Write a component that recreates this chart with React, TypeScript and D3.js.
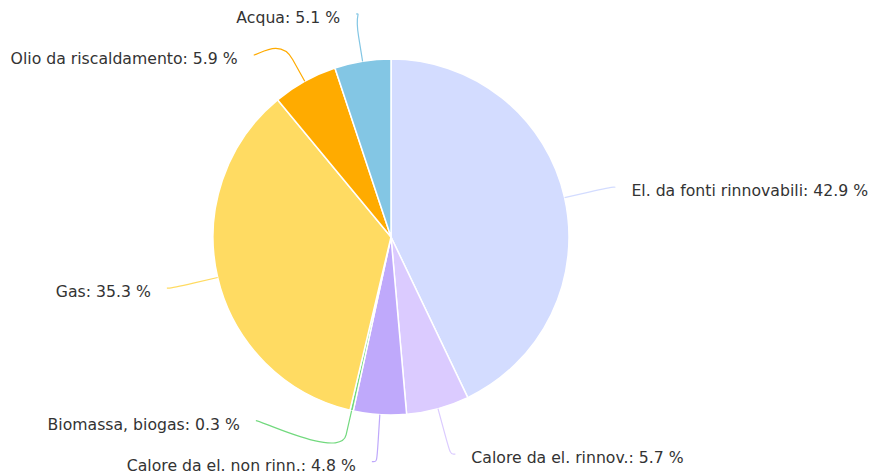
import React from "react";
import * as d3 from "d3";

const LABELS = [
  "El. da fonti rinnovabili",
  "Calore da el. rinnov.",
  "Calore da el. non rinn.",
  "Biomassa, biogas",
  "Gas",
  "Olio da riscaldamento",
  "Acqua",
];
const VALUES = [42.9, 5.7, 4.8, 0.3, 35.3, 5.9, 5.1];
const COLORS = ["#d3dcff", "#dbcbff", "#bfa9fb", "#72d97e", "#ffdb62", "#ffab00", "#83c6e4"];

const W = 872;
const H = 474;
const CX = 391;
const CY = 237;
const R = 178;
const LABEL_R = 225;
const GAP = 41;
const MIN_Y = 14;
const MAX_Y = 462;

type Lab = {
  i: number;
  side: number;
  mid: number;
  y: number;
};

// push labels apart: bottom-up first, then top-down
function spread(list: Lab[]) {
  list.sort((a, b) => a.y - b.y);
  for (let k = list.length - 1; k >= 0; k--) {
    const hi = k === list.length - 1 ? MAX_Y : list[k + 1].y - GAP;
    list[k].y = Math.min(list[k].y, hi);
  }
  for (let k = 0; k < list.length; k++) {
    const lo = k === 0 ? MIN_Y : list[k - 1].y + GAP;
    list[k].y = Math.max(list[k].y, lo);
  }
}

export default function App() {
  const pie = d3
    .pie<number>()
    .sort(null)
    .value((d) => d)
    .startAngle(0)
    .endAngle(2 * Math.PI);
  const arcs = pie(VALUES);
  const arc = d3.arc<d3.PieArcDatum<number>>().innerRadius(0).outerRadius(R);

  const labs: Lab[] = arcs.map((a, i) => {
    const mid = (a.startAngle + a.endAngle) / 2;
    return { i, mid, side: Math.sin(mid) >= 0 ? 1 : -1, y: CY - Math.cos(mid) * LABEL_R };
  });
  spread(labs.filter((l) => l.side > 0));
  spread(labs.filter((l) => l.side < 0));

  return (
    <div style={{ position: "fixed", left: 0, top: 0 }}>
      <svg width={W} height={H} style={{ display: "block", background: "#fff" }}>
        <g transform={`translate(${CX},${CY})`}>
          {arcs.map((a, i) => (
            <path key={i} d={arc(a) ?? ""} fill={COLORS[i]} stroke="#ffffff" strokeWidth={1.5} strokeLinejoin="round" />
          ))}
        </g>
        {labs.map((l) => {
          const dy = l.y - CY;
          const x = CX + l.side * Math.sqrt(Math.max(0, LABEL_R * LABEL_R - dy * dy));
          const tx = CX + Math.sin(l.mid) * R;
          const ty = CY - Math.cos(l.mid) * R;
          const bx = CX + Math.sin(l.mid) * (R + 25);
          const by = CY - Math.cos(l.mid) * (R + 25);
          const mx = x + l.side * 5;
          const p = d3.path();
          p.moveTo(mx, l.y);
          p.bezierCurveTo(x, l.y, 2 * bx - tx, 2 * by - ty, bx, by);
          p.lineTo(tx, ty);
          return (
            <g key={l.i}>
              <path d={p.toString()} fill="none" stroke={COLORS[l.i]} strokeWidth={1.2} />
              <text
                x={mx + l.side * 16}
                y={l.y + 9}
                textAnchor={l.side > 0 ? "start" : "end"}
                fontFamily="'DejaVu Sans', sans-serif"
                fontSize={15.7}
                fill="#333333"
              >
                {`${LABELS[l.i]}: ${VALUES[l.i].toFixed(1)} %`}
              </text>
            </g>
          );
        })}
      </svg>
    </div>
  );
}
